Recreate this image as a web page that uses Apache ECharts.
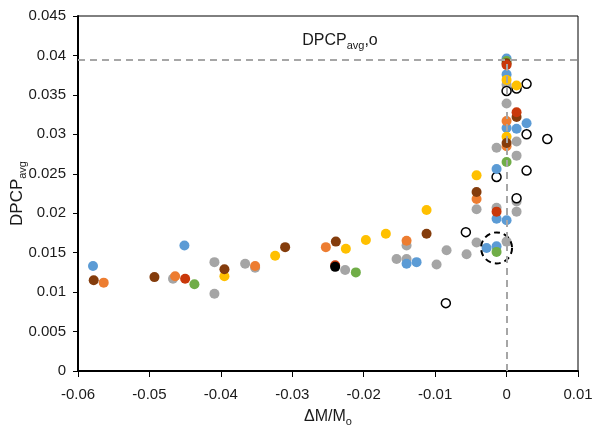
<!DOCTYPE html>
<html>
<head>
<meta charset="utf-8">
<script src="https://cdn.jsdelivr.net/npm/echarts@6/dist/echarts.min.js"></script>
<style>
  html, body { margin: 0; padding: 0; background: #fff; }
  #chart { width: 592px; height: 428px; }
</style>
</head>
<body>
<div id="chart"></div>
<script>
// Axis ranges and tick step
const xMin = -0.06, xMax = 0.01, xStep = 0.01;
const yMin = 0, yMax = 0.045, yStep = 0.005;

// Reference level DPCP_avg,o and the zero mass-change line
const refLevel = 0.0394;
const zeroChange = 0;

// Highlighted point (dashed ring)
const ringPoint = [[-0.0014, 0.0156]];

// Measured points, one array per group: [ΔM/Mo, DPCP_avg]
const grayPts = [
  [-0.0467, 0.0117], [-0.0409, 0.0138], [-0.0409, 0.0098], [-0.0366, 0.0136],
  [-0.0352, 0.0131], [-0.0226, 0.0128], [-0.0154, 0.0142], [-0.0140, 0.0142],
  [-0.0140, 0.0159], [-0.0098, 0.0135], [-0.0084, 0.0153], [-0.0056, 0.0148],
  [-0.0042, 0.0163], [-0.0042, 0.0205], [-0.0014, 0.0207], [0.0000, 0.0164],
  [0.0014, 0.0215], [0.0014, 0.0202], [-0.0014, 0.0283], [0.0014, 0.0291],
  [0.0014, 0.0273], [0.0000, 0.0339], [0.0000, 0.0363]
];
const openPts = [
  [-0.0085, 0.0086], [-0.0057, 0.0176], [-0.0014, 0.0246], [0.0028, 0.0254],
  [0.0014, 0.0219], [0.0028, 0.0300], [0.0057, 0.0294], [0.0000, 0.0355],
  [0.0014, 0.0358], [0.0028, 0.0364]
];
const bluePts = [
  [-0.0579, 0.0133], [-0.0451, 0.0159], [-0.0140, 0.0136], [-0.0126, 0.0138],
  [-0.0028, 0.0156], [-0.0014, 0.0158], [-0.0014, 0.0193], [0.0000, 0.0191],
  [-0.0014, 0.0256], [0.0000, 0.0308], [0.0014, 0.0307], [0.0028, 0.0314],
  [0.0000, 0.0376], [0.0000, 0.0396]
];
const orangePts = [
  [-0.0564, 0.0112], [-0.0464, 0.0120], [-0.0352, 0.0133], [-0.0253, 0.0157],
  [-0.0140, 0.0165], [-0.0042, 0.0218], [0.0000, 0.0285], [0.0000, 0.0317]
];
const yellowPts = [
  [-0.0395, 0.0120], [-0.0324, 0.0146], [-0.0225, 0.0155], [-0.0197, 0.0166],
  [-0.0169, 0.0174], [-0.0112, 0.0204], [-0.0042, 0.0248], [0.0000, 0.0297],
  [0.0000, 0.0369], [0.0014, 0.0362]
];
const greenPts = [
  [-0.0437, 0.0110], [-0.0211, 0.0125], [-0.0014, 0.0151], [0.0000, 0.0265],
  [0.0000, 0.0393]
];
const brownPts = [
  [-0.0578, 0.0115], [-0.0493, 0.0119], [-0.0395, 0.0129], [-0.0310, 0.0157],
  [-0.0239, 0.0164], [-0.0112, 0.0174], [-0.0042, 0.0227], [0.0000, 0.0289],
  [0.0014, 0.0322], [0.0000, 0.0390]
];
const redPts = [
  [-0.0450, 0.0117], [-0.0240, 0.0134], [-0.0014, 0.0202], [0.0014, 0.0328],
  [0.0000, 0.0388]
];
const blackPts = [[-0.0240, 0.0132]];

const FONT = '"Liberation Sans", Arial, sans-serif';
const TXT = '#1a1a1a';

function dots(name, data, color) {
  return {
    name, type: 'scatter', data,
    symbol: 'circle', symbolSize: 10,
    itemStyle: { color, opacity: 1 },
    z: 3
  };
}

const fmt = v => String(+v.toFixed(3));

const option = {
  animation: false,
  backgroundColor: '#fff',
  grid: {
    left: 78, right: 14, top: 16, bottom: 57,
    outerBoundsMode: 'none', containLabel: false,
    show: true, borderColor: '#000', borderWidth: 1, backgroundColor: 'transparent'
  },
  xAxis: {
    type: 'value', min: xMin, max: xMax, interval: xStep,
    splitLine: { show: false },
    axisLine: { show: true, onZero: false, lineStyle: { color: '#000', width: 2 } },
    axisTick: { show: true, inside: false, length: 6, lineStyle: { color: '#000', width: 1 } },
    axisLabel: { color: TXT, fontSize: 15, fontFamily: FONT, margin: 16, formatter: fmt },
    name: '{m|ΔM/M}{s|o}',
    nameLocation: 'middle', nameGap: 35, nameMoveOverlap: false,
    nameTextStyle: {
      rich: {
        m: { fontSize: 16, fontFamily: FONT, color: TXT },
        s: { fontSize: 11, fontFamily: FONT, color: TXT, padding: [10, 0, 0, 0] }
      }
    }
  },
  yAxis: {
    type: 'value', min: yMin, max: yMax, interval: yStep,
    splitLine: { show: false },
    axisLine: { show: true, onZero: false, lineStyle: { color: '#000', width: 2 } },
    axisTick: { show: true, inside: false, length: 5, lineStyle: { color: '#000', width: 1 } },
    axisLabel: { color: TXT, fontSize: 15, fontFamily: FONT, margin: 12, formatter: fmt },
    name: '{m|DPCP}{s|avg}',
    nameLocation: 'middle', nameRotate: 90, nameGap: 50, nameMoveOverlap: false,
    nameTextStyle: {
      rich: {
        m: { fontSize: 17, fontFamily: FONT, color: TXT },
        s: { fontSize: 11, fontFamily: FONT, color: TXT, padding: [10, 0, 0, 0] }
      }
    }
  },
  series: [
    {
      name: 'reference', type: 'scatter', data: [], silent: true,
      markLine: {
        silent: true, symbol: 'none', animation: false,
        lineStyle: { color: '#a6a6a6', width: 2, type: [7, 5] },
        label: { show: false },
        data: [
          [
            { coord: [xMin, refLevel],
              label: {
                show: true, position: 'insideMiddleTop', distance: 9, offset: [12, 0],
                formatter: '{m|DPCP}{s|avg}{m|,o}',
                rich: {
                  m: { fontSize: 16, fontFamily: FONT, color: TXT },
                  s: { fontSize: 11, fontFamily: FONT, color: TXT, padding: [10, 0, 0, 0] }
                }
              } },
            { coord: [xMax, refLevel] }
          ],
          [
            { coord: [zeroChange, yMin] },
            { coord: [zeroChange, refLevel] }
          ]
        ]
      },
      z: 1
    },
    dots('gray', grayPts, '#a5a5a5'),
    {
      name: 'open', type: 'scatter', data: openPts,
      symbol: 'circle', symbolSize: 9,
      itemStyle: { color: '#fff', borderColor: '#000', borderWidth: 1.5, opacity: 1 },
      z: 3
    },
    dots('blue', bluePts, '#5b9bd5'),
    dots('orange', orangePts, '#ed7d31'),
    dots('yellow', yellowPts, '#ffc000'),
    dots('green', greenPts, '#70ad47'),
    dots('brown', brownPts, '#843c0c'),
    dots('red', redPts, '#c9380a'),
    dots('black', blackPts, '#000000'),
    {
      name: 'ring', type: 'scatter', data: ringPoint, silent: true,
      symbol: 'circle', symbolSize: 31,
      itemStyle: { color: 'rgba(0,0,0,0)', borderColor: '#000', borderWidth: 2, borderType: [6, 4], opacity: 1 },
      z: 4
    }
  ]
};

const chart = echarts.init(document.getElementById('chart'), null, { renderer: 'canvas' });
chart.setOption(option);
</script>
</body>
</html>
